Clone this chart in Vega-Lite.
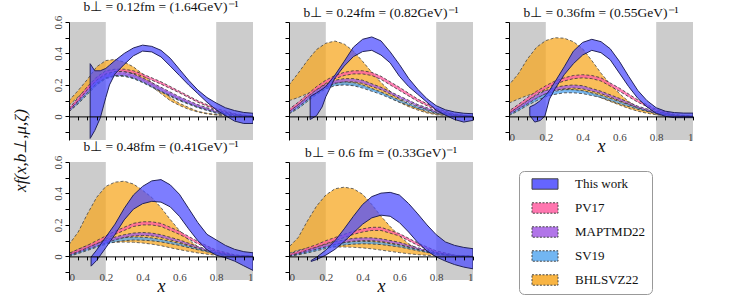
{
"$schema": "https://vega.github.io/schema/vega-lite/v6.json",
"autosize": "none",
"padding": {"left": 69, "top": 22, "right": 679, "bottom": 278},
"background": "white",
"columns": 3,
"bounds": "flush",
"spacing": {"row": 22, "column": 36},
"datasets": {
"regions": [{"a": 0, "b": 0.2}, {"a": 0.8, "b": 1}],
"bands": [
{"p":1,"m":"SV19","x":0,"lo":0.03,"hi":0.04},{"p":1,"m":"SV19","x":0.05,"lo":0.08,"hi":0.1},{"p":1,"m":"SV19","x":0.1,"lo":0.14,"hi":0.17},{"p":1,"m":"SV19","x":0.15,"lo":0.2,"hi":0.23},{"p":1,"m":"SV19","x":0.2,"lo":0.24,"hi":0.26},{"p":1,"m":"SV19","x":0.25,"lo":0.255,"hi":0.275},{"p":1,"m":"SV19","x":0.3,"lo":0.255,"hi":0.275},{"p":1,"m":"SV19","x":0.35,"lo":0.24,"hi":0.26},{"p":1,"m":"SV19","x":0.4,"lo":0.215,"hi":0.235},{"p":1,"m":"SV19","x":0.5,"lo":0.155,"hi":0.175},{"p":1,"m":"SV19","x":0.6,"lo":0.1,"hi":0.115},{"p":1,"m":"SV19","x":0.7,"lo":0.055,"hi":0.065},{"p":1,"m":"SV19","x":0.8,"lo":0.02,"hi":0.03},{"p":1,"m":"SV19","x":0.9,"lo":0.005,"hi":0.01},{"p":1,"m":"SV19","x":1,"lo":0,"hi":0},
{"p":1,"m":"MAPTMD22","x":0,"lo":0.03,"hi":0.05},{"p":1,"m":"MAPTMD22","x":0.05,"lo":0.09,"hi":0.11},{"p":1,"m":"MAPTMD22","x":0.1,"lo":0.15,"hi":0.18},{"p":1,"m":"MAPTMD22","x":0.15,"lo":0.21,"hi":0.24},{"p":1,"m":"MAPTMD22","x":0.2,"lo":0.245,"hi":0.27},{"p":1,"m":"MAPTMD22","x":0.25,"lo":0.26,"hi":0.285},{"p":1,"m":"MAPTMD22","x":0.3,"lo":0.26,"hi":0.285},{"p":1,"m":"MAPTMD22","x":0.35,"lo":0.245,"hi":0.27},{"p":1,"m":"MAPTMD22","x":0.4,"lo":0.22,"hi":0.245},{"p":1,"m":"MAPTMD22","x":0.5,"lo":0.16,"hi":0.185},{"p":1,"m":"MAPTMD22","x":0.6,"lo":0.105,"hi":0.125},{"p":1,"m":"MAPTMD22","x":0.7,"lo":0.06,"hi":0.075},{"p":1,"m":"MAPTMD22","x":0.8,"lo":0.025,"hi":0.035},{"p":1,"m":"MAPTMD22","x":0.9,"lo":0.007,"hi":0.012},{"p":1,"m":"MAPTMD22","x":1,"lo":0,"hi":0},
{"p":1,"m":"PV17","x":0,"lo":0.04,"hi":0.05},{"p":1,"m":"PV17","x":0.05,"lo":0.1,"hi":0.12},{"p":1,"m":"PV17","x":0.1,"lo":0.17,"hi":0.19},{"p":1,"m":"PV17","x":0.15,"lo":0.23,"hi":0.25},{"p":1,"m":"PV17","x":0.2,"lo":0.27,"hi":0.29},{"p":1,"m":"PV17","x":0.25,"lo":0.285,"hi":0.3},{"p":1,"m":"PV17","x":0.3,"lo":0.285,"hi":0.3},{"p":1,"m":"PV17","x":0.35,"lo":0.275,"hi":0.29},{"p":1,"m":"PV17","x":0.4,"lo":0.255,"hi":0.27},{"p":1,"m":"PV17","x":0.5,"lo":0.205,"hi":0.22},{"p":1,"m":"PV17","x":0.6,"lo":0.15,"hi":0.16},{"p":1,"m":"PV17","x":0.7,"lo":0.09,"hi":0.1},{"p":1,"m":"PV17","x":0.8,"lo":0.04,"hi":0.05},{"p":1,"m":"PV17","x":0.9,"lo":0.012,"hi":0.018},{"p":1,"m":"PV17","x":1,"lo":0,"hi":0},
{"p":1,"m":"BHLSVZ22","x":0,"lo":0.07,"hi":0.1},{"p":1,"m":"BHLSVZ22","x":0.05,"lo":0.125,"hi":0.165},{"p":1,"m":"BHLSVZ22","x":0.1,"lo":0.18,"hi":0.235},{"p":1,"m":"BHLSVZ22","x":0.15,"lo":0.245,"hi":0.315},{"p":1,"m":"BHLSVZ22","x":0.2,"lo":0.28,"hi":0.355},{"p":1,"m":"BHLSVZ22","x":0.25,"lo":0.295,"hi":0.362},{"p":1,"m":"BHLSVZ22","x":0.3,"lo":0.29,"hi":0.345},{"p":1,"m":"BHLSVZ22","x":0.35,"lo":0.27,"hi":0.315},{"p":1,"m":"BHLSVZ22","x":0.4,"lo":0.232,"hi":0.27},{"p":1,"m":"BHLSVZ22","x":0.45,"lo":0.19,"hi":0.215},{"p":1,"m":"BHLSVZ22","x":0.5,"lo":0.145,"hi":0.17},{"p":1,"m":"BHLSVZ22","x":0.55,"lo":0.1,"hi":0.12},{"p":1,"m":"BHLSVZ22","x":0.6,"lo":0.07,"hi":0.083},{"p":1,"m":"BHLSVZ22","x":0.65,"lo":0.045,"hi":0.057},{"p":1,"m":"BHLSVZ22","x":0.7,"lo":0.028,"hi":0.032},{"p":1,"m":"BHLSVZ22","x":0.75,"lo":0.016,"hi":0.02},{"p":1,"m":"BHLSVZ22","x":0.8,"lo":0.009,"hi":0.012},{"p":1,"m":"BHLSVZ22","x":0.9,"lo":0.002,"hi":0.004},{"p":1,"m":"BHLSVZ22","x":1,"lo":0,"hi":0},
{"p":1,"m":"This work","x":0.115,"lo":-0.14,"hi":0.335},{"p":1,"m":"This work","x":0.14,"lo":-0.09,"hi":0.29},{"p":1,"m":"This work","x":0.17,"lo":-0.01,"hi":0.29},{"p":1,"m":"This work","x":0.2,"lo":0.12,"hi":0.305},{"p":1,"m":"This work","x":0.22,"lo":0.2,"hi":0.325},{"p":1,"m":"This work","x":0.25,"lo":0.27,"hi":0.355},{"p":1,"m":"This work","x":0.3,"lo":0.33,"hi":0.4},{"p":1,"m":"This work","x":0.35,"lo":0.385,"hi":0.435},{"p":1,"m":"This work","x":0.4,"lo":0.415,"hi":0.453},{"p":1,"m":"This work","x":0.45,"lo":0.41,"hi":0.445},{"p":1,"m":"This work","x":0.5,"lo":0.378,"hi":0.42},{"p":1,"m":"This work","x":0.55,"lo":0.32,"hi":0.37},{"p":1,"m":"This work","x":0.6,"lo":0.26,"hi":0.3},{"p":1,"m":"This work","x":0.65,"lo":0.2,"hi":0.23},{"p":1,"m":"This work","x":0.7,"lo":0.145,"hi":0.168},{"p":1,"m":"This work","x":0.75,"lo":0.09,"hi":0.12},{"p":1,"m":"This work","x":0.8,"lo":0.042,"hi":0.085},{"p":1,"m":"This work","x":0.85,"lo":0.005,"hi":0.055},{"p":1,"m":"This work","x":0.9,"lo":-0.03,"hi":0.037},{"p":1,"m":"This work","x":0.95,"lo":-0.045,"hi":0.025},{"p":1,"m":"This work","x":1,"lo":-0.045,"hi":0.02},

{"p":2,"m":"SV19","x":0,"lo":0.015,"hi":0.03},{"p":2,"m":"SV19","x":0.05,"lo":0.05,"hi":0.07},{"p":2,"m":"SV19","x":0.1,"lo":0.095,"hi":0.115},{"p":2,"m":"SV19","x":0.15,"lo":0.14,"hi":0.16},{"p":2,"m":"SV19","x":0.2,"lo":0.175,"hi":0.195},{"p":2,"m":"SV19","x":0.25,"lo":0.195,"hi":0.215},{"p":2,"m":"SV19","x":0.3,"lo":0.2,"hi":0.22},{"p":2,"m":"SV19","x":0.35,"lo":0.195,"hi":0.215},{"p":2,"m":"SV19","x":0.4,"lo":0.18,"hi":0.2},{"p":2,"m":"SV19","x":0.5,"lo":0.14,"hi":0.155},{"p":2,"m":"SV19","x":0.6,"lo":0.09,"hi":0.105},{"p":2,"m":"SV19","x":0.7,"lo":0.05,"hi":0.06},{"p":2,"m":"SV19","x":0.8,"lo":0.02,"hi":0.028},{"p":2,"m":"SV19","x":0.9,"lo":0.005,"hi":0.008},{"p":2,"m":"SV19","x":1,"lo":0,"hi":0},
{"p":2,"m":"MAPTMD22","x":0,"lo":0.02,"hi":0.035},{"p":2,"m":"MAPTMD22","x":0.05,"lo":0.06,"hi":0.075},{"p":2,"m":"MAPTMD22","x":0.1,"lo":0.105,"hi":0.125},{"p":2,"m":"MAPTMD22","x":0.15,"lo":0.15,"hi":0.17},{"p":2,"m":"MAPTMD22","x":0.2,"lo":0.185,"hi":0.205},{"p":2,"m":"MAPTMD22","x":0.25,"lo":0.21,"hi":0.23},{"p":2,"m":"MAPTMD22","x":0.3,"lo":0.22,"hi":0.24},{"p":2,"m":"MAPTMD22","x":0.35,"lo":0.22,"hi":0.24},{"p":2,"m":"MAPTMD22","x":0.4,"lo":0.21,"hi":0.23},{"p":2,"m":"MAPTMD22","x":0.5,"lo":0.17,"hi":0.185},{"p":2,"m":"MAPTMD22","x":0.6,"lo":0.115,"hi":0.13},{"p":2,"m":"MAPTMD22","x":0.7,"lo":0.065,"hi":0.075},{"p":2,"m":"MAPTMD22","x":0.8,"lo":0.025,"hi":0.035},{"p":2,"m":"MAPTMD22","x":0.9,"lo":0.006,"hi":0.01},{"p":2,"m":"MAPTMD22","x":1,"lo":0,"hi":0},
{"p":2,"m":"PV17","x":0,"lo":0.03,"hi":0.045},{"p":2,"m":"PV17","x":0.05,"lo":0.075,"hi":0.09},{"p":2,"m":"PV17","x":0.1,"lo":0.125,"hi":0.14},{"p":2,"m":"PV17","x":0.15,"lo":0.17,"hi":0.19},{"p":2,"m":"PV17","x":0.2,"lo":0.21,"hi":0.23},{"p":2,"m":"PV17","x":0.25,"lo":0.24,"hi":0.26},{"p":2,"m":"PV17","x":0.3,"lo":0.26,"hi":0.28},{"p":2,"m":"PV17","x":0.35,"lo":0.27,"hi":0.29},{"p":2,"m":"PV17","x":0.4,"lo":0.27,"hi":0.29},{"p":2,"m":"PV17","x":0.45,"lo":0.26,"hi":0.28},{"p":2,"m":"PV17","x":0.5,"lo":0.235,"hi":0.255},{"p":2,"m":"PV17","x":0.6,"lo":0.165,"hi":0.185},{"p":2,"m":"PV17","x":0.7,"lo":0.095,"hi":0.11},{"p":2,"m":"PV17","x":0.8,"lo":0.04,"hi":0.05},{"p":2,"m":"PV17","x":0.9,"lo":0.01,"hi":0.015},{"p":2,"m":"PV17","x":1,"lo":0,"hi":0},
{"p":2,"m":"BHLSVZ22","x":0,"lo":0.1,"hi":0.2},{"p":2,"m":"BHLSVZ22","x":0.05,"lo":0.12,"hi":0.275},{"p":2,"m":"BHLSVZ22","x":0.1,"lo":0.145,"hi":0.355},{"p":2,"m":"BHLSVZ22","x":0.15,"lo":0.17,"hi":0.425},{"p":2,"m":"BHLSVZ22","x":0.2,"lo":0.19,"hi":0.465},{"p":2,"m":"BHLSVZ22","x":0.25,"lo":0.2,"hi":0.479},{"p":2,"m":"BHLSVZ22","x":0.3,"lo":0.205,"hi":0.46},{"p":2,"m":"BHLSVZ22","x":0.35,"lo":0.2,"hi":0.415},{"p":2,"m":"BHLSVZ22","x":0.4,"lo":0.19,"hi":0.35},{"p":2,"m":"BHLSVZ22","x":0.45,"lo":0.17,"hi":0.28},{"p":2,"m":"BHLSVZ22","x":0.5,"lo":0.15,"hi":0.215},{"p":2,"m":"BHLSVZ22","x":0.55,"lo":0.12,"hi":0.16},{"p":2,"m":"BHLSVZ22","x":0.6,"lo":0.09,"hi":0.112},{"p":2,"m":"BHLSVZ22","x":0.65,"lo":0.062,"hi":0.078},{"p":2,"m":"BHLSVZ22","x":0.7,"lo":0.04,"hi":0.05},{"p":2,"m":"BHLSVZ22","x":0.75,"lo":0.022,"hi":0.03},{"p":2,"m":"BHLSVZ22","x":0.8,"lo":0.011,"hi":0.016},{"p":2,"m":"BHLSVZ22","x":0.9,"lo":0.002,"hi":0.004},{"p":2,"m":"BHLSVZ22","x":1,"lo":0,"hi":0},
{"p":2,"m":"This work","x":0.115,"lo":-0.02,"hi":0.126},{"p":2,"m":"This work","x":0.15,"lo":0.005,"hi":0.15},{"p":2,"m":"This work","x":0.18,"lo":0.06,"hi":0.172},{"p":2,"m":"This work","x":0.2,"lo":0.125,"hi":0.19},{"p":2,"m":"This work","x":0.25,"lo":0.245,"hi":0.263},{"p":2,"m":"This work","x":0.3,"lo":0.32,"hi":0.35},{"p":2,"m":"This work","x":0.35,"lo":0.38,"hi":0.44},{"p":2,"m":"This work","x":0.4,"lo":0.412,"hi":0.49},{"p":2,"m":"This work","x":0.45,"lo":0.42,"hi":0.505},{"p":2,"m":"This work","x":0.5,"lo":0.39,"hi":0.48},{"p":2,"m":"This work","x":0.55,"lo":0.34,"hi":0.41},{"p":2,"m":"This work","x":0.6,"lo":0.255,"hi":0.33},{"p":2,"m":"This work","x":0.65,"lo":0.19,"hi":0.242},{"p":2,"m":"This work","x":0.7,"lo":0.14,"hi":0.172},{"p":2,"m":"This work","x":0.75,"lo":0.09,"hi":0.112},{"p":2,"m":"This work","x":0.8,"lo":0.04,"hi":0.068},{"p":2,"m":"This work","x":0.85,"lo":0.008,"hi":0.042},{"p":2,"m":"This work","x":0.9,"lo":-0.02,"hi":0.028},{"p":2,"m":"This work","x":0.95,"lo":-0.036,"hi":0.02},{"p":2,"m":"This work","x":1,"lo":-0.025,"hi":0.017},

{"p":3,"m":"SV19","x":0,"lo":0.005,"hi":0.02},{"p":3,"m":"SV19","x":0.05,"lo":0.035,"hi":0.05},{"p":3,"m":"SV19","x":0.1,"lo":0.07,"hi":0.09},{"p":3,"m":"SV19","x":0.15,"lo":0.1,"hi":0.12},{"p":3,"m":"SV19","x":0.2,"lo":0.125,"hi":0.145},{"p":3,"m":"SV19","x":0.25,"lo":0.14,"hi":0.16},{"p":3,"m":"SV19","x":0.3,"lo":0.15,"hi":0.17},{"p":3,"m":"SV19","x":0.35,"lo":0.15,"hi":0.17},{"p":3,"m":"SV19","x":0.4,"lo":0.145,"hi":0.165},{"p":3,"m":"SV19","x":0.5,"lo":0.12,"hi":0.135},{"p":3,"m":"SV19","x":0.6,"lo":0.08,"hi":0.095},{"p":3,"m":"SV19","x":0.7,"lo":0.045,"hi":0.055},{"p":3,"m":"SV19","x":0.8,"lo":0.018,"hi":0.025},{"p":3,"m":"SV19","x":0.9,"lo":0.004,"hi":0.007},{"p":3,"m":"SV19","x":1,"lo":0,"hi":0},
{"p":3,"m":"MAPTMD22","x":0,"lo":0.01,"hi":0.025},{"p":3,"m":"MAPTMD22","x":0.05,"lo":0.045,"hi":0.06},{"p":3,"m":"MAPTMD22","x":0.1,"lo":0.08,"hi":0.1},{"p":3,"m":"MAPTMD22","x":0.15,"lo":0.115,"hi":0.135},{"p":3,"m":"MAPTMD22","x":0.2,"lo":0.145,"hi":0.165},{"p":3,"m":"MAPTMD22","x":0.25,"lo":0.165,"hi":0.185},{"p":3,"m":"MAPTMD22","x":0.3,"lo":0.175,"hi":0.195},{"p":3,"m":"MAPTMD22","x":0.35,"lo":0.18,"hi":0.2},{"p":3,"m":"MAPTMD22","x":0.4,"lo":0.175,"hi":0.195},{"p":3,"m":"MAPTMD22","x":0.5,"lo":0.145,"hi":0.16},{"p":3,"m":"MAPTMD22","x":0.6,"lo":0.1,"hi":0.115},{"p":3,"m":"MAPTMD22","x":0.7,"lo":0.055,"hi":0.065},{"p":3,"m":"MAPTMD22","x":0.8,"lo":0.02,"hi":0.03},{"p":3,"m":"MAPTMD22","x":0.9,"lo":0.005,"hi":0.008},{"p":3,"m":"MAPTMD22","x":1,"lo":0,"hi":0},
{"p":3,"m":"PV17","x":0,"lo":0.02,"hi":0.035},{"p":3,"m":"PV17","x":0.05,"lo":0.06,"hi":0.075},{"p":3,"m":"PV17","x":0.1,"lo":0.1,"hi":0.12},{"p":3,"m":"PV17","x":0.15,"lo":0.14,"hi":0.16},{"p":3,"m":"PV17","x":0.2,"lo":0.175,"hi":0.195},{"p":3,"m":"PV17","x":0.25,"lo":0.205,"hi":0.225},{"p":3,"m":"PV17","x":0.3,"lo":0.225,"hi":0.245},{"p":3,"m":"PV17","x":0.35,"lo":0.24,"hi":0.26},{"p":3,"m":"PV17","x":0.4,"lo":0.245,"hi":0.265},{"p":3,"m":"PV17","x":0.45,"lo":0.24,"hi":0.26},{"p":3,"m":"PV17","x":0.5,"lo":0.225,"hi":0.245},{"p":3,"m":"PV17","x":0.6,"lo":0.16,"hi":0.18},{"p":3,"m":"PV17","x":0.7,"lo":0.09,"hi":0.105},{"p":3,"m":"PV17","x":0.8,"lo":0.035,"hi":0.045},{"p":3,"m":"PV17","x":0.9,"lo":0.008,"hi":0.012},{"p":3,"m":"PV17","x":1,"lo":0,"hi":0},
{"p":3,"m":"BHLSVZ22","x":0,"lo":0.085,"hi":0.2},{"p":3,"m":"BHLSVZ22","x":0.05,"lo":0.11,"hi":0.27},{"p":3,"m":"BHLSVZ22","x":0.1,"lo":0.133,"hi":0.365},{"p":3,"m":"BHLSVZ22","x":0.15,"lo":0.151,"hi":0.44},{"p":3,"m":"BHLSVZ22","x":0.2,"lo":0.163,"hi":0.482},{"p":3,"m":"BHLSVZ22","x":0.25,"lo":0.17,"hi":0.5},{"p":3,"m":"BHLSVZ22","x":0.3,"lo":0.172,"hi":0.497},{"p":3,"m":"BHLSVZ22","x":0.35,"lo":0.168,"hi":0.475},{"p":3,"m":"BHLSVZ22","x":0.4,"lo":0.158,"hi":0.43},{"p":3,"m":"BHLSVZ22","x":0.45,"lo":0.143,"hi":0.355},{"p":3,"m":"BHLSVZ22","x":0.5,"lo":0.118,"hi":0.275},{"p":3,"m":"BHLSVZ22","x":0.55,"lo":0.095,"hi":0.205},{"p":3,"m":"BHLSVZ22","x":0.6,"lo":0.073,"hi":0.145},{"p":3,"m":"BHLSVZ22","x":0.65,"lo":0.051,"hi":0.095},{"p":3,"m":"BHLSVZ22","x":0.7,"lo":0.033,"hi":0.058},{"p":3,"m":"BHLSVZ22","x":0.75,"lo":0.02,"hi":0.033},{"p":3,"m":"BHLSVZ22","x":0.8,"lo":0.01,"hi":0.016},{"p":3,"m":"BHLSVZ22","x":0.9,"lo":0.002,"hi":0.004},{"p":3,"m":"BHLSVZ22","x":1,"lo":0,"hi":0},
{"p":3,"m":"This work","x":0.113,"lo":0.006,"hi":0.06},{"p":3,"m":"This work","x":0.14,"lo":-0.036,"hi":0.075},{"p":3,"m":"This work","x":0.17,"lo":-0.026,"hi":0.1},{"p":3,"m":"This work","x":0.195,"lo":0.002,"hi":0.13},{"p":3,"m":"This work","x":0.22,"lo":0.11,"hi":0.165},{"p":3,"m":"This work","x":0.25,"lo":0.175,"hi":0.22},{"p":3,"m":"This work","x":0.3,"lo":0.265,"hi":0.315},{"p":3,"m":"This work","x":0.35,"lo":0.335,"hi":0.415},{"p":3,"m":"This work","x":0.4,"lo":0.39,"hi":0.47},{"p":3,"m":"This work","x":0.45,"lo":0.42,"hi":0.49},{"p":3,"m":"This work","x":0.5,"lo":0.405,"hi":0.475},{"p":3,"m":"This work","x":0.55,"lo":0.36,"hi":0.43},{"p":3,"m":"This work","x":0.6,"lo":0.275,"hi":0.35},{"p":3,"m":"This work","x":0.65,"lo":0.19,"hi":0.255},{"p":3,"m":"This work","x":0.7,"lo":0.115,"hi":0.165},{"p":3,"m":"This work","x":0.75,"lo":0.06,"hi":0.1},{"p":3,"m":"This work","x":0.8,"lo":0.02,"hi":0.055},{"p":3,"m":"This work","x":0.85,"lo":0.0,"hi":0.033},{"p":3,"m":"This work","x":0.9,"lo":-0.008,"hi":0.024},{"p":3,"m":"This work","x":0.95,"lo":-0.008,"hi":0.021},{"p":3,"m":"This work","x":1,"lo":-0.008,"hi":0.021},

{"p":4,"m":"SV19","x":0,"lo":0,"hi":0.01},{"p":4,"m":"SV19","x":0.05,"lo":0.018,"hi":0.032},{"p":4,"m":"SV19","x":0.1,"lo":0.038,"hi":0.055},{"p":4,"m":"SV19","x":0.15,"lo":0.058,"hi":0.077},{"p":4,"m":"SV19","x":0.2,"lo":0.077,"hi":0.097},{"p":4,"m":"SV19","x":0.25,"lo":0.092,"hi":0.112},{"p":4,"m":"SV19","x":0.3,"lo":0.1,"hi":0.12},{"p":4,"m":"SV19","x":0.35,"lo":0.104,"hi":0.123},{"p":4,"m":"SV19","x":0.4,"lo":0.103,"hi":0.122},{"p":4,"m":"SV19","x":0.45,"lo":0.099,"hi":0.117},{"p":4,"m":"SV19","x":0.5,"lo":0.092,"hi":0.108},{"p":4,"m":"SV19","x":0.6,"lo":0.07,"hi":0.083},{"p":4,"m":"SV19","x":0.7,"lo":0.042,"hi":0.05},{"p":4,"m":"SV19","x":0.8,"lo":0.016,"hi":0.022},{"p":4,"m":"SV19","x":0.9,"lo":0.003,"hi":0.005},{"p":4,"m":"SV19","x":1,"lo":0,"hi":0},
{"p":4,"m":"MAPTMD22","x":0,"lo":0.005,"hi":0.015},{"p":4,"m":"MAPTMD22","x":0.05,"lo":0.025,"hi":0.038},{"p":4,"m":"MAPTMD22","x":0.1,"lo":0.045,"hi":0.06},{"p":4,"m":"MAPTMD22","x":0.15,"lo":0.065,"hi":0.082},{"p":4,"m":"MAPTMD22","x":0.2,"lo":0.085,"hi":0.103},{"p":4,"m":"MAPTMD22","x":0.25,"lo":0.105,"hi":0.123},{"p":4,"m":"MAPTMD22","x":0.3,"lo":0.12,"hi":0.138},{"p":4,"m":"MAPTMD22","x":0.35,"lo":0.13,"hi":0.148},{"p":4,"m":"MAPTMD22","x":0.4,"lo":0.133,"hi":0.152},{"p":4,"m":"MAPTMD22","x":0.45,"lo":0.13,"hi":0.148},{"p":4,"m":"MAPTMD22","x":0.5,"lo":0.12,"hi":0.138},{"p":4,"m":"MAPTMD22","x":0.6,"lo":0.09,"hi":0.105},{"p":4,"m":"MAPTMD22","x":0.7,"lo":0.052,"hi":0.063},{"p":4,"m":"MAPTMD22","x":0.8,"lo":0.02,"hi":0.028},{"p":4,"m":"MAPTMD22","x":0.9,"lo":0.004,"hi":0.007},{"p":4,"m":"MAPTMD22","x":1,"lo":0,"hi":0},
{"p":4,"m":"PV17","x":0,"lo":0.01,"hi":0.02},{"p":4,"m":"PV17","x":0.05,"lo":0.03,"hi":0.045},{"p":4,"m":"PV17","x":0.1,"lo":0.055,"hi":0.07},{"p":4,"m":"PV17","x":0.15,"lo":0.08,"hi":0.1},{"p":4,"m":"PV17","x":0.2,"lo":0.11,"hi":0.13},{"p":4,"m":"PV17","x":0.25,"lo":0.14,"hi":0.16},{"p":4,"m":"PV17","x":0.3,"lo":0.165,"hi":0.185},{"p":4,"m":"PV17","x":0.35,"lo":0.19,"hi":0.21},{"p":4,"m":"PV17","x":0.4,"lo":0.2,"hi":0.22},{"p":4,"m":"PV17","x":0.45,"lo":0.2,"hi":0.22},{"p":4,"m":"PV17","x":0.5,"lo":0.19,"hi":0.21},{"p":4,"m":"PV17","x":0.6,"lo":0.14,"hi":0.16},{"p":4,"m":"PV17","x":0.7,"lo":0.08,"hi":0.095},{"p":4,"m":"PV17","x":0.8,"lo":0.03,"hi":0.04},{"p":4,"m":"PV17","x":0.9,"lo":0.006,"hi":0.01},{"p":4,"m":"PV17","x":1,"lo":0,"hi":0},
{"p":4,"m":"BHLSVZ22","x":0,"lo":0.015,"hi":0.075},{"p":4,"m":"BHLSVZ22","x":0.05,"lo":0.045,"hi":0.155},{"p":4,"m":"BHLSVZ22","x":0.1,"lo":0.07,"hi":0.27},{"p":4,"m":"BHLSVZ22","x":0.15,"lo":0.082,"hi":0.375},{"p":4,"m":"BHLSVZ22","x":0.2,"lo":0.088,"hi":0.445},{"p":4,"m":"BHLSVZ22","x":0.25,"lo":0.09,"hi":0.472},{"p":4,"m":"BHLSVZ22","x":0.3,"lo":0.091,"hi":0.478},{"p":4,"m":"BHLSVZ22","x":0.35,"lo":0.09,"hi":0.46},{"p":4,"m":"BHLSVZ22","x":0.4,"lo":0.085,"hi":0.42},{"p":4,"m":"BHLSVZ22","x":0.45,"lo":0.078,"hi":0.375},{"p":4,"m":"BHLSVZ22","x":0.5,"lo":0.068,"hi":0.31},{"p":4,"m":"BHLSVZ22","x":0.55,"lo":0.055,"hi":0.235},{"p":4,"m":"BHLSVZ22","x":0.6,"lo":0.043,"hi":0.165},{"p":4,"m":"BHLSVZ22","x":0.65,"lo":0.032,"hi":0.105},{"p":4,"m":"BHLSVZ22","x":0.7,"lo":0.022,"hi":0.062},{"p":4,"m":"BHLSVZ22","x":0.75,"lo":0.014,"hi":0.032},{"p":4,"m":"BHLSVZ22","x":0.8,"lo":0.008,"hi":0.013},{"p":4,"m":"BHLSVZ22","x":0.9,"lo":0.002,"hi":0.002},{"p":4,"m":"BHLSVZ22","x":1,"lo":0,"hi":0},
{"p":4,"m":"This work","x":0.12,"lo":-0.062,"hi":-0.004},{"p":4,"m":"This work","x":0.15,"lo":-0.026,"hi":0.04},{"p":4,"m":"This work","x":0.2,"lo":0.055,"hi":0.123},{"p":4,"m":"This work","x":0.25,"lo":0.14,"hi":0.205},{"p":4,"m":"This work","x":0.3,"lo":0.232,"hi":0.305},{"p":4,"m":"This work","x":0.35,"lo":0.3,"hi":0.39},{"p":4,"m":"This work","x":0.4,"lo":0.335,"hi":0.445},{"p":4,"m":"This work","x":0.45,"lo":0.35,"hi":0.48},{"p":4,"m":"This work","x":0.5,"lo":0.345,"hi":0.488},{"p":4,"m":"This work","x":0.55,"lo":0.315,"hi":0.455},{"p":4,"m":"This work","x":0.6,"lo":0.255,"hi":0.395},{"p":4,"m":"This work","x":0.65,"lo":0.175,"hi":0.305},{"p":4,"m":"This work","x":0.7,"lo":0.1,"hi":0.215},{"p":4,"m":"This work","x":0.75,"lo":0.042,"hi":0.14},{"p":4,"m":"This work","x":0.8,"lo":0.008,"hi":0.105},{"p":4,"m":"This work","x":0.85,"lo":-0.008,"hi":0.07},{"p":4,"m":"This work","x":0.9,"lo":-0.03,"hi":0.045},{"p":4,"m":"This work","x":0.95,"lo":-0.06,"hi":0.03},{"p":4,"m":"This work","x":1,"lo":-0.089,"hi":0.023},

{"p":5,"m":"SV19","x":0,"lo":0,"hi":0.01},{"p":5,"m":"SV19","x":0.05,"lo":0.01,"hi":0.022},{"p":5,"m":"SV19","x":0.1,"lo":0.022,"hi":0.036},{"p":5,"m":"SV19","x":0.15,"lo":0.036,"hi":0.05},{"p":5,"m":"SV19","x":0.2,"lo":0.05,"hi":0.065},{"p":5,"m":"SV19","x":0.25,"lo":0.062,"hi":0.078},{"p":5,"m":"SV19","x":0.3,"lo":0.072,"hi":0.088},{"p":5,"m":"SV19","x":0.35,"lo":0.078,"hi":0.094},{"p":5,"m":"SV19","x":0.4,"lo":0.08,"hi":0.096},{"p":5,"m":"SV19","x":0.45,"lo":0.079,"hi":0.094},{"p":5,"m":"SV19","x":0.5,"lo":0.075,"hi":0.09},{"p":5,"m":"SV19","x":0.6,"lo":0.06,"hi":0.072},{"p":5,"m":"SV19","x":0.7,"lo":0.036,"hi":0.045},{"p":5,"m":"SV19","x":0.8,"lo":0.015,"hi":0.02},{"p":5,"m":"SV19","x":0.9,"lo":0.003,"hi":0.005},{"p":5,"m":"SV19","x":1,"lo":0,"hi":0},
{"p":5,"m":"MAPTMD22","x":0,"lo":0.003,"hi":0.012},{"p":5,"m":"MAPTMD22","x":0.05,"lo":0.015,"hi":0.028},{"p":5,"m":"MAPTMD22","x":0.1,"lo":0.03,"hi":0.045},{"p":5,"m":"MAPTMD22","x":0.15,"lo":0.045,"hi":0.06},{"p":5,"m":"MAPTMD22","x":0.2,"lo":0.06,"hi":0.078},{"p":5,"m":"MAPTMD22","x":0.25,"lo":0.075,"hi":0.093},{"p":5,"m":"MAPTMD22","x":0.3,"lo":0.088,"hi":0.105},{"p":5,"m":"MAPTMD22","x":0.35,"lo":0.097,"hi":0.115},{"p":5,"m":"MAPTMD22","x":0.4,"lo":0.1,"hi":0.118},{"p":5,"m":"MAPTMD22","x":0.45,"lo":0.1,"hi":0.118},{"p":5,"m":"MAPTMD22","x":0.5,"lo":0.095,"hi":0.112},{"p":5,"m":"MAPTMD22","x":0.6,"lo":0.075,"hi":0.09},{"p":5,"m":"MAPTMD22","x":0.7,"lo":0.045,"hi":0.055},{"p":5,"m":"MAPTMD22","x":0.8,"lo":0.018,"hi":0.025},{"p":5,"m":"MAPTMD22","x":0.9,"lo":0.004,"hi":0.006},{"p":5,"m":"MAPTMD22","x":1,"lo":0,"hi":0},
{"p":5,"m":"PV17","x":0,"lo":0.005,"hi":0.015},{"p":5,"m":"PV17","x":0.05,"lo":0.02,"hi":0.035},{"p":5,"m":"PV17","x":0.1,"lo":0.04,"hi":0.055},{"p":5,"m":"PV17","x":0.15,"lo":0.06,"hi":0.075},{"p":5,"m":"PV17","x":0.2,"lo":0.08,"hi":0.1},{"p":5,"m":"PV17","x":0.25,"lo":0.1,"hi":0.12},{"p":5,"m":"PV17","x":0.3,"lo":0.12,"hi":0.14},{"p":5,"m":"PV17","x":0.35,"lo":0.14,"hi":0.16},{"p":5,"m":"PV17","x":0.4,"lo":0.155,"hi":0.175},{"p":5,"m":"PV17","x":0.45,"lo":0.165,"hi":0.185},{"p":5,"m":"PV17","x":0.5,"lo":0.165,"hi":0.185},{"p":5,"m":"PV17","x":0.6,"lo":0.13,"hi":0.145},{"p":5,"m":"PV17","x":0.7,"lo":0.07,"hi":0.085},{"p":5,"m":"PV17","x":0.8,"lo":0.025,"hi":0.035},{"p":5,"m":"PV17","x":0.9,"lo":0.005,"hi":0.008},{"p":5,"m":"PV17","x":1,"lo":0,"hi":0},
{"p":5,"m":"BHLSVZ22","x":0,"lo":0.02,"hi":0.06},{"p":5,"m":"BHLSVZ22","x":0.05,"lo":0.04,"hi":0.12},{"p":5,"m":"BHLSVZ22","x":0.1,"lo":0.05,"hi":0.225},{"p":5,"m":"BHLSVZ22","x":0.15,"lo":0.054,"hi":0.32},{"p":5,"m":"BHLSVZ22","x":0.2,"lo":0.058,"hi":0.39},{"p":5,"m":"BHLSVZ22","x":0.25,"lo":0.06,"hi":0.43},{"p":5,"m":"BHLSVZ22","x":0.3,"lo":0.06,"hi":0.44},{"p":5,"m":"BHLSVZ22","x":0.35,"lo":0.058,"hi":0.43},{"p":5,"m":"BHLSVZ22","x":0.4,"lo":0.054,"hi":0.395},{"p":5,"m":"BHLSVZ22","x":0.45,"lo":0.048,"hi":0.33},{"p":5,"m":"BHLSVZ22","x":0.5,"lo":0.04,"hi":0.255},{"p":5,"m":"BHLSVZ22","x":0.55,"lo":0.032,"hi":0.19},{"p":5,"m":"BHLSVZ22","x":0.6,"lo":0.024,"hi":0.13},{"p":5,"m":"BHLSVZ22","x":0.65,"lo":0.017,"hi":0.081},{"p":5,"m":"BHLSVZ22","x":0.7,"lo":0.011,"hi":0.048},{"p":5,"m":"BHLSVZ22","x":0.75,"lo":0.007,"hi":0.025},{"p":5,"m":"BHLSVZ22","x":0.8,"lo":0.004,"hi":0.011},{"p":5,"m":"BHLSVZ22","x":0.9,"lo":0.001,"hi":0.002},{"p":5,"m":"BHLSVZ22","x":1,"lo":0,"hi":0},
{"p":5,"m":"This work","x":0.12,"lo":-0.032,"hi":-0.026},{"p":5,"m":"This work","x":0.15,"lo":-0.02,"hi":-0.005},{"p":5,"m":"This work","x":0.2,"lo":0.008,"hi":0.04},{"p":5,"m":"This work","x":0.25,"lo":0.045,"hi":0.1},{"p":5,"m":"This work","x":0.3,"lo":0.095,"hi":0.175},{"p":5,"m":"This work","x":0.35,"lo":0.15,"hi":0.255},{"p":5,"m":"This work","x":0.4,"lo":0.205,"hi":0.33},{"p":5,"m":"This work","x":0.45,"lo":0.245,"hi":0.38},{"p":5,"m":"This work","x":0.5,"lo":0.262,"hi":0.402},{"p":5,"m":"This work","x":0.55,"lo":0.255,"hi":0.407},{"p":5,"m":"This work","x":0.6,"lo":0.215,"hi":0.39},{"p":5,"m":"This work","x":0.65,"lo":0.155,"hi":0.336},{"p":5,"m":"This work","x":0.7,"lo":0.088,"hi":0.27},{"p":5,"m":"This work","x":0.75,"lo":0.035,"hi":0.2},{"p":5,"m":"This work","x":0.8,"lo":-0.003,"hi":0.138},{"p":5,"m":"This work","x":0.85,"lo":-0.03,"hi":0.092},{"p":5,"m":"This work","x":0.9,"lo":-0.052,"hi":0.07},{"p":5,"m":"This work","x":0.95,"lo":-0.068,"hi":0.057},{"p":5,"m":"This work","x":1,"lo":-0.079,"hi":0.049}
]
},
"concat": [
{
"width": 184, "height": 118,
"title": {"text": "b⊥ = 0.12fm = (1.64GeV)⁻¹"},
"resolve": {"axis": {"x": "independent"}},
"layer": [
{"data": {"name": "regions"}, "mark": {"type": "rect", "color": "#cccccc"},
 "encoding": {"x": {"field": "a", "type": "quantitative", "scale": {"domain": [0, 1], "nice": false, "zero": false}, "axis": null}, "x2": {"field": "b"}}},
{"data": {"name": "bands"}, "transform": [{"filter": "datum.p == 1"}],
 "encoding": {
  "x": {"field": "x", "type": "quantitative", "scale": {"domain": [0, 1], "nice": false, "zero": false},
        "axis": {"orient": "bottom", "offset": -23.6, "values": [0,0.05,0.1,0.15,0.2,0.25,0.3,0.35,0.4,0.45,0.5,0.55,0.6,0.65,0.7,0.75,0.8,0.85,0.9,0.95,1], "labels": false, "tickSize": 3.5, "title": null, "zindex": 1}},
  "y": {"field": "lo", "type": "quantitative", "stack": null, "scale": {"domain": [-0.15, 0.6], "nice": false, "zero": false},
        "axis": {"values": [-0.1,0,0.1,0.2,0.3,0.4,0.5,0.6], "labelExpr": "datum.value == 0 ? '0' : (datum.value == 0.2 || datum.value == 0.4 || datum.value == 0.6) ? format(datum.value, '.1f') : ''", "labelAngle": -90, "labelOverlap": false, "zindex": 1,
          "title": "xf(x,b⊥,μ,ζ)", "titleFontStyle": "italic", "titleFontSize": 17, "titleX": -49, "titleY": 128, "titleBaseline": "middle", "titleAngle": -90}},
  "y2": {"field": "hi"},
  "color": {"field": "m", "type": "nominal", "scale": {"domain": ["This work", "PV17", "MAPTMD22", "SV19", "BHLSVZ22"], "range": ["#4b4bff", "#ff5fa2", "#a45ee5", "#5aaaf0", "#f7a823"]},
    "legend": {"orient": "none", "legendX": 450, "legendY": 149, "title": null, "direction": "vertical", "labelFont": "Liberation Serif", "labelFontSize": 13, "labelColor": "#111", "labelOffset": 36, "labelExpr": "datum.label + '\u00a0\u00a0\u00a0\u00a0\u00a0\u00a0'", "symbolType": "M0,-0.8H4V0.8H0Z", "symbolSize": 169, "symbolStrokeColor": "#222", "symbolStrokeWidth": 1, "symbolOpacity": 0.85, "rowPadding": 8, "padding": 6, "strokeColor": "#999", "cornerRadius": 5, "fillColor": "white",
      "encode": {"symbols": {"update": {"strokeDash": {"signal": "datum.value === 'This work' ? [] : [2, 1.5]"}}}}}}
 },
 "layer": [
  {"transform": [{"filter": "datum.m == 'BHLSVZ22'"}], "mark": {"type": "area", "fillOpacity": 0.75, "stroke": "#444", "strokeWidth": 0.8, "strokeDash": [3, 2], "clip": true}},
  {"transform": [{"filter": "datum.m == 'SV19'"}], "mark": {"type": "area", "fillOpacity": 0.8, "stroke": "#333", "strokeWidth": 0.8, "strokeDash": [3, 2], "clip": true}},
  {"transform": [{"filter": "datum.m == 'MAPTMD22'"}], "mark": {"type": "area", "fillOpacity": 0.8, "stroke": "#333", "strokeWidth": 0.8, "strokeDash": [3, 2], "clip": true}},
  {"transform": [{"filter": "datum.m == 'PV17'"}], "mark": {"type": "area", "fillOpacity": 0.8, "stroke": "#333", "strokeWidth": 0.8, "strokeDash": [3, 2], "clip": true}},
  {"transform": [{"filter": "datum.m == 'This work'"}], "mark": {"type": "area", "fillOpacity": 0.72, "stroke": "#22225a", "strokeWidth": 1, "clip": true}}
 ]}
]
},
{
"width": 184, "height": 118,
"title": {"text": "b⊥ = 0.24fm = (0.82GeV)⁻¹"},
"resolve": {"axis": {"x": "independent"}},
"layer": [
{"data": {"name": "regions"}, "mark": {"type": "rect", "color": "#cccccc"},
 "encoding": {"x": {"field": "a", "type": "quantitative", "scale": {"domain": [0, 1], "nice": false, "zero": false}, "axis": null}, "x2": {"field": "b"}}},
{"data": {"name": "bands"}, "transform": [{"filter": "datum.p == 2"}],
 "encoding": {
  "x": {"field": "x", "type": "quantitative", "scale": {"domain": [0, 1], "nice": false, "zero": false},
        "axis": {"orient": "bottom", "offset": -23.6, "values": [0,0.05,0.1,0.15,0.2,0.25,0.3,0.35,0.4,0.45,0.5,0.55,0.6,0.65,0.7,0.75,0.8,0.85,0.9,0.95,1], "labels": false, "tickSize": 3.5, "title": null, "zindex": 1}},
  "y": {"field": "lo", "type": "quantitative", "stack": null, "scale": {"domain": [-0.15, 0.6], "nice": false, "zero": false},
        "axis": {"values": [-0.1,0,0.1,0.2,0.3,0.4,0.5,0.6], "labels": false, "title": null, "zindex": 1}},
  "y2": {"field": "hi"},
  "color": {"field": "m", "type": "nominal", "scale": {"domain": ["This work", "PV17", "MAPTMD22", "SV19", "BHLSVZ22"], "range": ["#4b4bff", "#ff5fa2", "#a45ee5", "#5aaaf0", "#f7a823"]}}
 },
 "layer": [
  {"transform": [{"filter": "datum.m == 'BHLSVZ22'"}], "mark": {"type": "area", "fillOpacity": 0.75, "stroke": "#444", "strokeWidth": 0.8, "strokeDash": [3, 2], "clip": true}},
  {"transform": [{"filter": "datum.m == 'SV19'"}], "mark": {"type": "area", "fillOpacity": 0.8, "stroke": "#333", "strokeWidth": 0.8, "strokeDash": [3, 2], "clip": true}},
  {"transform": [{"filter": "datum.m == 'MAPTMD22'"}], "mark": {"type": "area", "fillOpacity": 0.8, "stroke": "#333", "strokeWidth": 0.8, "strokeDash": [3, 2], "clip": true}},
  {"transform": [{"filter": "datum.m == 'PV17'"}], "mark": {"type": "area", "fillOpacity": 0.8, "stroke": "#333", "strokeWidth": 0.8, "strokeDash": [3, 2], "clip": true}},
  {"transform": [{"filter": "datum.m == 'This work'"}], "mark": {"type": "area", "fillOpacity": 0.72, "stroke": "#22225a", "strokeWidth": 1, "clip": true}}
 ]}
]
},
{
"width": 184, "height": 118,
"title": {"text": "b⊥ = 0.36fm = (0.55GeV)⁻¹"},
"resolve": {"axis": {"x": "independent"}},
"layer": [
{"data": {"name": "regions"}, "mark": {"type": "rect", "color": "#cccccc"},
 "encoding": {"x": {"field": "a", "type": "quantitative", "scale": {"domain": [0, 1], "nice": false, "zero": false},
   "axis": {"orient": "bottom", "offset": -9, "values": [0, 0.2, 0.4, 0.6, 0.8, 1], "format": "~g", "domain": false, "ticks": false, "labelPadding": 0, "labelFlush": true, "labelOverlap": false, "title": "x", "titleFontStyle": "italic", "titleFontSize": 18, "titleBaseline": "alphabetic", "titleY": 20, "zindex": 1}},
   "x2": {"field": "b"}}},
{"data": {"name": "bands"}, "transform": [{"filter": "datum.p == 3"}],
 "encoding": {
  "x": {"field": "x", "type": "quantitative", "scale": {"domain": [0, 1], "nice": false, "zero": false},
        "axis": {"orient": "bottom", "offset": -23.6, "values": [0,0.05,0.1,0.15,0.2,0.25,0.3,0.35,0.4,0.45,0.5,0.55,0.6,0.65,0.7,0.75,0.8,0.85,0.9,0.95,1], "labels": false, "tickSize": 3.5, "title": null, "zindex": 1}},
  "y": {"field": "lo", "type": "quantitative", "stack": null, "scale": {"domain": [-0.15, 0.6], "nice": false, "zero": false},
        "axis": {"values": [-0.1,0,0.1,0.2,0.3,0.4,0.5,0.6], "labels": false, "title": null, "zindex": 1}},
  "y2": {"field": "hi"},
  "color": {"field": "m", "type": "nominal", "scale": {"domain": ["This work", "PV17", "MAPTMD22", "SV19", "BHLSVZ22"], "range": ["#4b4bff", "#ff5fa2", "#a45ee5", "#5aaaf0", "#f7a823"]}}
 },
 "layer": [
  {"transform": [{"filter": "datum.m == 'BHLSVZ22'"}], "mark": {"type": "area", "fillOpacity": 0.75, "stroke": "#444", "strokeWidth": 0.8, "strokeDash": [3, 2], "clip": true}},
  {"transform": [{"filter": "datum.m == 'SV19'"}], "mark": {"type": "area", "fillOpacity": 0.8, "stroke": "#333", "strokeWidth": 0.8, "strokeDash": [3, 2], "clip": true}},
  {"transform": [{"filter": "datum.m == 'MAPTMD22'"}], "mark": {"type": "area", "fillOpacity": 0.8, "stroke": "#333", "strokeWidth": 0.8, "strokeDash": [3, 2], "clip": true}},
  {"transform": [{"filter": "datum.m == 'PV17'"}], "mark": {"type": "area", "fillOpacity": 0.8, "stroke": "#333", "strokeWidth": 0.8, "strokeDash": [3, 2], "clip": true}},
  {"transform": [{"filter": "datum.m == 'This work'"}], "mark": {"type": "area", "fillOpacity": 0.72, "stroke": "#22225a", "strokeWidth": 1, "clip": true}}
 ]}
]
},
{
"width": 184, "height": 118,
"title": {"text": "b⊥ = 0.48fm = (0.41GeV)⁻¹"},
"resolve": {"axis": {"x": "independent"}},
"layer": [
{"data": {"name": "regions"}, "mark": {"type": "rect", "color": "#cccccc"},
 "encoding": {"x": {"field": "a", "type": "quantitative", "scale": {"domain": [0, 1], "nice": false, "zero": false},
   "axis": {"orient": "bottom", "offset": -9, "values": [0, 0.2, 0.4, 0.6, 0.8, 1], "format": "~g", "domain": false, "ticks": false, "labelPadding": 0, "labelFlush": true, "labelOverlap": false, "title": "x", "titleFontStyle": "italic", "titleFontSize": 18, "titleBaseline": "alphabetic", "titleY": 20, "zindex": 1}},
   "x2": {"field": "b"}}},
{"data": {"name": "bands"}, "transform": [{"filter": "datum.p == 4"}],
 "encoding": {
  "x": {"field": "x", "type": "quantitative", "scale": {"domain": [0, 1], "nice": false, "zero": false},
        "axis": {"orient": "bottom", "offset": -23.6, "values": [0,0.05,0.1,0.15,0.2,0.25,0.3,0.35,0.4,0.45,0.5,0.55,0.6,0.65,0.7,0.75,0.8,0.85,0.9,0.95,1], "labels": false, "tickSize": 3.5, "title": null, "zindex": 1}},
  "y": {"field": "lo", "type": "quantitative", "stack": null, "scale": {"domain": [-0.15, 0.6], "nice": false, "zero": false},
        "axis": {"values": [-0.1,0,0.1,0.2,0.3,0.4,0.5,0.6], "labelExpr": "datum.value == 0 ? '0' : (datum.value == 0.2 || datum.value == 0.4 || datum.value == 0.6) ? format(datum.value, '.1f') : ''", "labelAngle": -90, "labelOverlap": false, "zindex": 1, "title": null}},
  "y2": {"field": "hi"},
  "color": {"field": "m", "type": "nominal", "scale": {"domain": ["This work", "PV17", "MAPTMD22", "SV19", "BHLSVZ22"], "range": ["#4b4bff", "#ff5fa2", "#a45ee5", "#5aaaf0", "#f7a823"]}}
 },
 "layer": [
  {"transform": [{"filter": "datum.m == 'BHLSVZ22'"}], "mark": {"type": "area", "fillOpacity": 0.75, "stroke": "#444", "strokeWidth": 0.8, "strokeDash": [3, 2], "clip": true}},
  {"transform": [{"filter": "datum.m == 'SV19'"}], "mark": {"type": "area", "fillOpacity": 0.8, "stroke": "#333", "strokeWidth": 0.8, "strokeDash": [3, 2], "clip": true}},
  {"transform": [{"filter": "datum.m == 'MAPTMD22'"}], "mark": {"type": "area", "fillOpacity": 0.8, "stroke": "#333", "strokeWidth": 0.8, "strokeDash": [3, 2], "clip": true}},
  {"transform": [{"filter": "datum.m == 'PV17'"}], "mark": {"type": "area", "fillOpacity": 0.8, "stroke": "#333", "strokeWidth": 0.8, "strokeDash": [3, 2], "clip": true}},
  {"transform": [{"filter": "datum.m == 'This work'"}], "mark": {"type": "area", "fillOpacity": 0.72, "stroke": "#22225a", "strokeWidth": 1, "clip": true}}
 ]}
]
},
{
"width": 184, "height": 118,
"title": {"text": "b⊥ = 0.6 fm = (0.33GeV)⁻¹"},
"resolve": {"axis": {"x": "independent"}},
"layer": [
{"data": {"name": "regions"}, "mark": {"type": "rect", "color": "#cccccc"},
 "encoding": {"x": {"field": "a", "type": "quantitative", "scale": {"domain": [0, 1], "nice": false, "zero": false},
   "axis": {"orient": "bottom", "offset": -9, "values": [0, 0.2, 0.4, 0.6, 0.8, 1], "format": "~g", "domain": false, "ticks": false, "labelPadding": 0, "labelFlush": true, "labelOverlap": false, "title": "x", "titleFontStyle": "italic", "titleFontSize": 18, "titleBaseline": "alphabetic", "titleY": 20, "zindex": 1}},
   "x2": {"field": "b"}}},
{"data": {"name": "bands"}, "transform": [{"filter": "datum.p == 5"}],
 "encoding": {
  "x": {"field": "x", "type": "quantitative", "scale": {"domain": [0, 1], "nice": false, "zero": false},
        "axis": {"orient": "bottom", "offset": -23.6, "values": [0,0.05,0.1,0.15,0.2,0.25,0.3,0.35,0.4,0.45,0.5,0.55,0.6,0.65,0.7,0.75,0.8,0.85,0.9,0.95,1], "labels": false, "tickSize": 3.5, "title": null, "zindex": 1}},
  "y": {"field": "lo", "type": "quantitative", "stack": null, "scale": {"domain": [-0.15, 0.6], "nice": false, "zero": false},
        "axis": {"values": [-0.1,0,0.1,0.2,0.3,0.4,0.5,0.6], "labels": false, "title": null, "zindex": 1}},
  "y2": {"field": "hi"},
  "color": {"field": "m", "type": "nominal", "scale": {"domain": ["This work", "PV17", "MAPTMD22", "SV19", "BHLSVZ22"], "range": ["#4b4bff", "#ff5fa2", "#a45ee5", "#5aaaf0", "#f7a823"]}}
 },
 "layer": [
  {"transform": [{"filter": "datum.m == 'BHLSVZ22'"}], "mark": {"type": "area", "fillOpacity": 0.75, "stroke": "#444", "strokeWidth": 0.8, "strokeDash": [3, 2], "clip": true}},
  {"transform": [{"filter": "datum.m == 'SV19'"}], "mark": {"type": "area", "fillOpacity": 0.8, "stroke": "#333", "strokeWidth": 0.8, "strokeDash": [3, 2], "clip": true}},
  {"transform": [{"filter": "datum.m == 'MAPTMD22'"}], "mark": {"type": "area", "fillOpacity": 0.8, "stroke": "#333", "strokeWidth": 0.8, "strokeDash": [3, 2], "clip": true}},
  {"transform": [{"filter": "datum.m == 'PV17'"}], "mark": {"type": "area", "fillOpacity": 0.8, "stroke": "#333", "strokeWidth": 0.8, "strokeDash": [3, 2], "clip": true}},
  {"transform": [{"filter": "datum.m == 'This work'"}], "mark": {"type": "area", "fillOpacity": 0.72, "stroke": "#22225a", "strokeWidth": 1, "clip": true}}
 ]}
]
}
],
"config": {
 "view": {"stroke": null},
 "font": "Liberation Serif",
 "title": {"font": "Liberation Serif", "fontSize": 13.5, "fontWeight": "normal", "color": "#111", "offset": 2, "frame": "group"},
 "axis": {"grid": false, "domainColor": "#000", "tickColor": "#000", "tickSize": 4, "labelFont": "Liberation Serif", "labelFontSize": 11, "labelColor": "#444", "labelPadding": 2, "titleFont": "Liberation Serif", "titleFontWeight": "normal", "titleColor": "#111"}
}
}
